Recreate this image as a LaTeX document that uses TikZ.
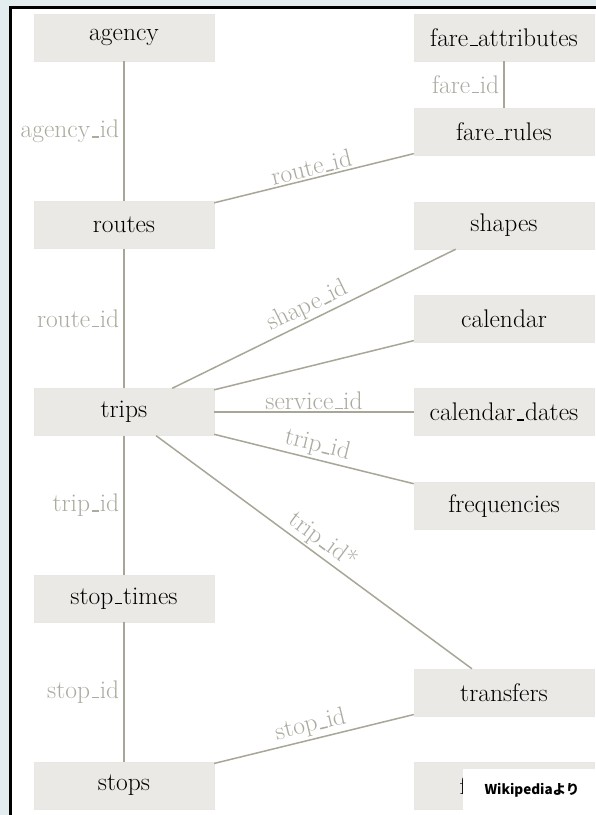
\documentclass[tikz,border=0pt]{standalone}
\usepackage{fontspec}
\newfontfamily\jpfont{Noto Sans CJK JP}
\definecolor{boxfill}{HTML}{EBE9E5}
\definecolor{edgecol}{HTML}{A9A698}
\definecolor{labcol}{HTML}{ADAAA0}
\definecolor{bgblue}{HTML}{E3ECEF}
\newcommand\us{\leavevmode\kern.06em\rule{0.3em}{0.06em}\kern.02em}
\tikzset{
  entity/.style={fill=boxfill, draw=boxfill!92!black!60!white, line width=0.4pt, minimum width=180pt, minimum height=47pt, inner sep=0pt, font=\fontsize{25.5}{30}\selectfont, text=black},
  rel/.style={draw=edgecol, line width=1.5pt},
  lab/.style={font=\fontsize{25.5}{30}\selectfont, text=labcol, inner sep=2pt},
  vlab/.style={font=\fontsize{25.5}{30}\selectfont, text=labcol, inner sep=4pt}
}
\begin{document}
\begin{tikzpicture}[x=1pt,y=-1pt]
\useasboundingbox (0,0) rectangle (596,815);
\fill[bgblue] (0,0) rectangle (596,815);
\fill[white] (10,7) rectangle (596,815);
\draw[black, line width=3pt] (10,815) -- (10,7) -- (596,7);
% left column
\node[entity] (agency) at (124,37.5) {agency};
\node[entity] (routes) at (124,225) {routes};
\node[entity] (trips) at (124,412) {trips};
\node[entity] (stoptimes) at (124,598.5) {stop\us times};
\node[entity] (stops) at (124,785.5) {stops};
% right column
\node[entity] (fareattr) at (504,37.5) {fare\us attributes};
\node[entity] (farerules) at (504,131.5) {fare\us rules};
\node[entity] (shapes) at (504,225.5) {shapes};
\node[entity] (calendar) at (504,318.5) {calendar};
\node[entity] (caldates) at (504,412) {calendar\us dates};
\node[entity] (freq) at (504,506) {frequencies};
\node[entity] (transfers) at (504,692.5) {transfers};
\node[entity] (feedinfo) at (504,786) {feed\us info};
% connectors
\draw[rel] (agency) -- node[vlab, midway, left] {agency\us id} (routes);
\draw[rel] (fareattr) -- node[vlab, midway, left] {fare\us id} (farerules);
\draw[rel] (routes) -- node[lab, midway, above, sloped] {route\us id} (farerules);
\draw[rel] (routes) -- node[vlab, midway, left] {route\us id} (trips);
\draw[rel] (trips) -- node[lab, midway, above, sloped] {shape\us id} (shapes);
\draw[rel] (trips) -- (calendar);
\draw[rel] (trips) -- node[lab, midway, above] {service\us id} (caldates);
\draw[rel] (trips) -- node[lab, midway, above, sloped] {trip\us id} (freq);
\draw[rel] (trips) -- node[lab, midway, above, sloped] {trip\us id*} (transfers);
\draw[rel] (trips) -- node[vlab, midway, left] {trip\us id} (stoptimes);
\draw[rel] (stoptimes) -- node[vlab, midway, left] {stop\us id} (stops);
\draw[rel] (stops) -- node[lab, midway, above, sloped] {stop\us id} (transfers);
% overlay
\node[fill=white, inner sep=0pt, minimum width=133pt, minimum height=46pt, anchor=north west] (wiki) at (463,769) {};
\node[anchor=center, font=\jpfont\bfseries\fontsize{13.5}{16}\selectfont, text=black] (wikitext) at (532,790) {Wikipediaより};
\end{tikzpicture}
\end{document}
